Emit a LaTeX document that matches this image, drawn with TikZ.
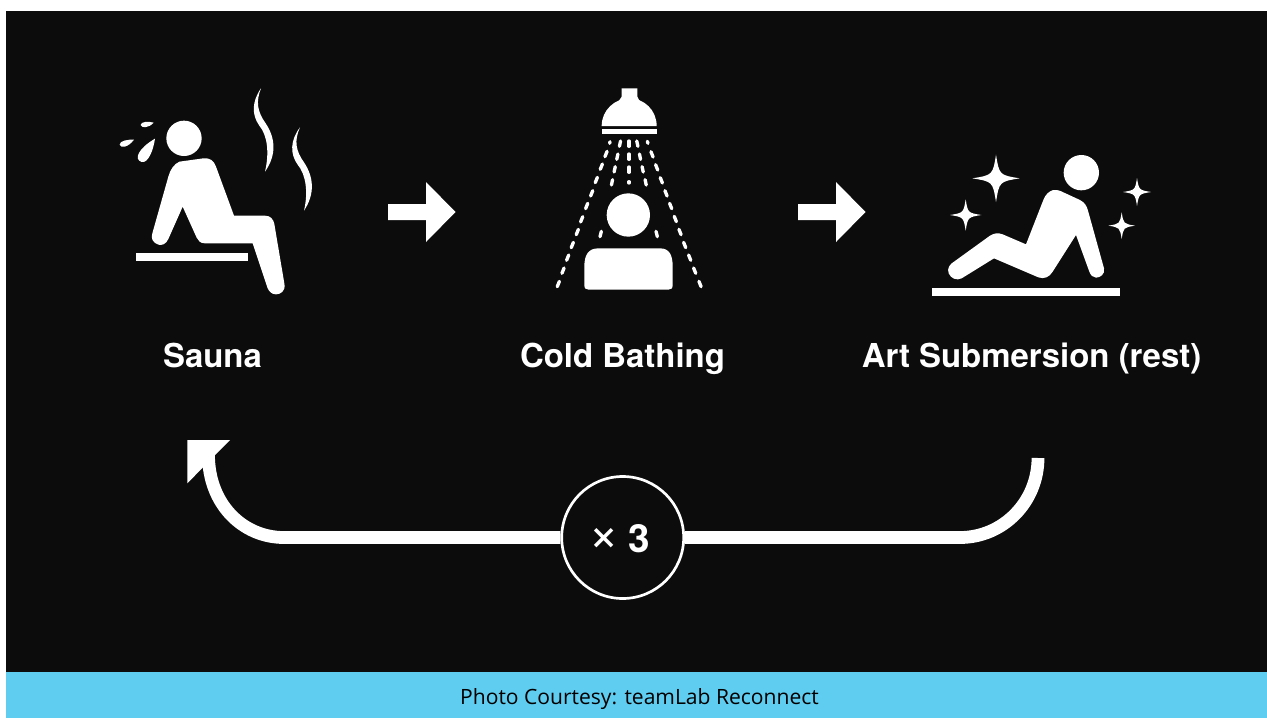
\documentclass[tikz,border=0pt]{standalone}
\usepackage{fontspec}
\setmainfont{TeX Gyre Heros}
\newfontfamily\capfont{Open Sans}
\definecolor{bg}{HTML}{0C0C0C}
\definecolor{bar}{HTML}{5FCDF0}
\newcommand{\sparkle}[3]{\fill[white] (#1,#2-#3) .. controls (#1+.14*#3,#2-.14*#3) .. (#1+#3,#2) .. controls (#1+.14*#3,#2+.14*#3) .. (#1,#2+#3) .. controls (#1-.14*#3,#2+.14*#3) .. (#1-#3,#2) .. controls (#1-.14*#3,#2-.14*#3) .. (#1,#2-#3) -- cycle;}
\tikzset{
  lab/.style={text=white,font=\bfseries\fontsize{24.7}{28}\selectfont,inner sep=0pt,anchor=base},
  loopline/.style={draw=white,line width=9.6pt},
  dropline/.style={draw=white,line width=2.5pt,line cap=round},
  icon/.style={shift={(#1)},x=0.25pt,y=-0.25pt}
}
\begin{document}
\begin{tikzpicture}[x=0.75pt,y=-0.75pt]
\useasboundingbox (0,0) rectangle (1267,718);
\fill[white] (0,0) rectangle (1267,718);
\fill[bg] (6,11) rectangle (1267,672);
\fill[bar] (6,672) rectangle (1267,718);
% Sauna
\begin{scope}[icon={100,70}]
  \fill[white] (252,205) circle (53);
  \fill[white] (238,275) -- (310,265) .. controls (330,263) and (342,272) .. (348,290) -- (402,437) -- (495,437) .. controls (512,437) and (520,448) .. (523,462) -- (553,640) .. controls (558,665) and (540,673) .. (528,673) .. controls (515,673) and (508,665) .. (503,655) -- (458,520) -- (315,520) .. controls (300,520) and (295,512) .. (290,503) -- (248,410) -- (205,507) .. controls (198,523) and (185,527) .. (175,524) .. controls (158,518) and (152,505) .. (157,490) -- (205,320) .. controls (210,300) and (222,282) .. (238,275) -- cycle;
  \fill[white] (107,548) rectangle (443,574);
  \fill[white] (165,206) .. controls (160,240) and (145,280) .. (125,276) .. controls (100,268) and (115,235) .. (165,206) -- cycle;
  \fill[white] (102,209) .. controls (85,232) and (62,236) .. (59,224) .. controls (58,212) and (85,208) .. (102,209) -- cycle;
  \fill[white] (161,158) .. controls (145,175) and (125,175) .. (122,165) .. controls (122,155) and (145,153) .. (161,158) -- cycle;
  \fill[white] (483,55) .. controls (455,95) and (455,135) .. (478,167) .. controls (503,197) and (508,250) .. (495,305) .. controls (530,255) and (527,205) .. (497,160) .. controls (472,125) and (467,95) .. (483,55) -- cycle;
  \fill[white] (600,172) .. controls (570,212) and (570,252) .. (593,284) .. controls (618,314) and (625,367) .. (612,422) .. controls (645,372) and (642,322) .. (612,277) .. controls (587,242) and (582,212) .. (600,172) -- cycle;
\end{scope}
% Shower
\begin{scope}[icon={530,70}]
  \fill[white] (275,55) -- (322,55) -- (322,80) -- (330,95) -- (265,95) -- (275,80) -- cycle;
  \fill[white] (215,168) .. controls (215,120) and (255,85) .. (298,85) .. controls (342,85) and (380,120) .. (380,168) -- cycle;
  \fill[white] (215,178) rectangle (380,193);
  \fill[white] (295,435) circle (65);
  \fill[white] (163,645) -- (163,590) .. controls (163,555) and (175,535) .. (205,535) -- (390,535) .. controls (418,535) and (428,555) .. (428,590) -- (428,645) .. controls (428,655) and (424,659) .. (415,659) -- (176,659) .. controls (167,659) and (163,655) .. (163,645) -- cycle;
  \foreach \x/\y in {228/252,214/290,199/330,185/370,170/408,155/448,142/486,127/525,113/563,99/602,85/642}
    \draw[dropline] (\x+3.2,\y-8) -- (\x-3.2,\y+8);
  \foreach \x/\y in {366/253,380/292,394/331,408/370,422/408,436/447,450/486,464/525,479/563,494/602,510/642}
    \draw[dropline] (\x-3.2,\y-8) -- (\x+3.2,\y+8);
  \foreach \x/\y in {270/221,262/260,254/298,246/337}
    \draw[dropline] (\x+1.7,\y-8) -- (\x-1.7,\y+8);
  \foreach \x/\y in {322/221,330/260,338/298,347/337}
    \draw[dropline] (\x-1.7,\y-8) -- (\x+1.7,\y+8);
  \foreach \y in {221,260,299}
    \draw[dropline] (297,\y-8) -- (297,\y+8);
  \draw[dropline] (297,335) -- (297,339);
  \draw[dropline] (240,215) -- (239,220);
  \draw[dropline] (352,214) -- (354,220);
  \draw[dropline] (214,484) -- (210,500);
  \draw[dropline] (378,484) -- (382,500);
\end{scope}
% Rest
\begin{scope}[icon={920,140}]
  \fill[white] (484,98) circle (53);
  \fill[white] (400,150) .. controls (410,148) and (420,152) .. (430,157) -- (480,180) .. controls (495,188) and (500,198) .. (504,212) -- (552,385) .. controls (556,403) and (540,413) .. (528,413) .. controls (518,413) and (512,405) .. (508,395) -- (468,285) -- (398,395) .. controls (388,412) and (372,418) .. (355,412) -- (222,355) -- (125,415) .. controls (110,423) and (92,415) .. (86,400) .. controls (80,385) and (90,372) .. (102,365) -- (210,287) .. controls (222,279) and (235,278) .. (248,283) -- (318,313) -- (370,180) .. controls (376,163) and (388,153) .. (400,150) -- cycle;
  \fill[white] (37,443) rectangle (600,468);
  \sparkle{228}{115}{71}
  \sparkle{137}{225}{47}
  \sparkle{651}{156}{42}
  \sparkle{605}{257}{40}
\end{scope}
% Block arrows
\fill[white] (388,204) -- (426,204) -- (426,182) -- (455.5,212) -- (426,242) -- (426,220) -- (388,220) -- cycle;
\fill[white] (798,204) -- (836,204) -- (836,182) -- (865.5,212) -- (836,242) -- (836,220) -- (798,220) -- cycle;
% Labels
\node[lab] (sauna) at (212.5,367) {Sauna};
\node[lab] (cold) at (622.5,367) {Cold Bathing};
\node[lab] (art) at (1031.5,367) {Art Submersion (rest)};
% Loop
\node[circle,draw=white,line width=2pt,fill=bg,minimum size=91.5pt,inner sep=0pt,text=white] (times) at (622.7,537.5) {};
\coordinate (loopstart) at (1038,458);
\coordinate (loopend) at (208.5,455);
\draw[loopline] (loopstart) .. controls (1038,502) and (1003,537.5) .. (960,537.5) -- (times.east);
\draw[loopline] (times.west) -- (284,537.5) .. controls (242.6,537.5) and (208.5,504) .. (loopend);
\fill[white] (187.3,440) -- (230,440) -- (187.3,483.3) -- cycle;
\node[text=white,font=\fontsize{40}{42}\selectfont,inner sep=0pt] (x) at (604.5,539.5) {×};
\node[text=white,font=\bfseries\fontsize{29}{32}\selectfont,inner sep=0pt,anchor=base] (three) at (639.5,552.5) {3};
\node[text=black,font=\capfont\fontsize{15.8}{18}\selectfont,inner sep=0pt,anchor=base] (cap) at (639.5,704) {Photo Courtesy: teamLab Reconnect};
\end{tikzpicture}
\end{document}
